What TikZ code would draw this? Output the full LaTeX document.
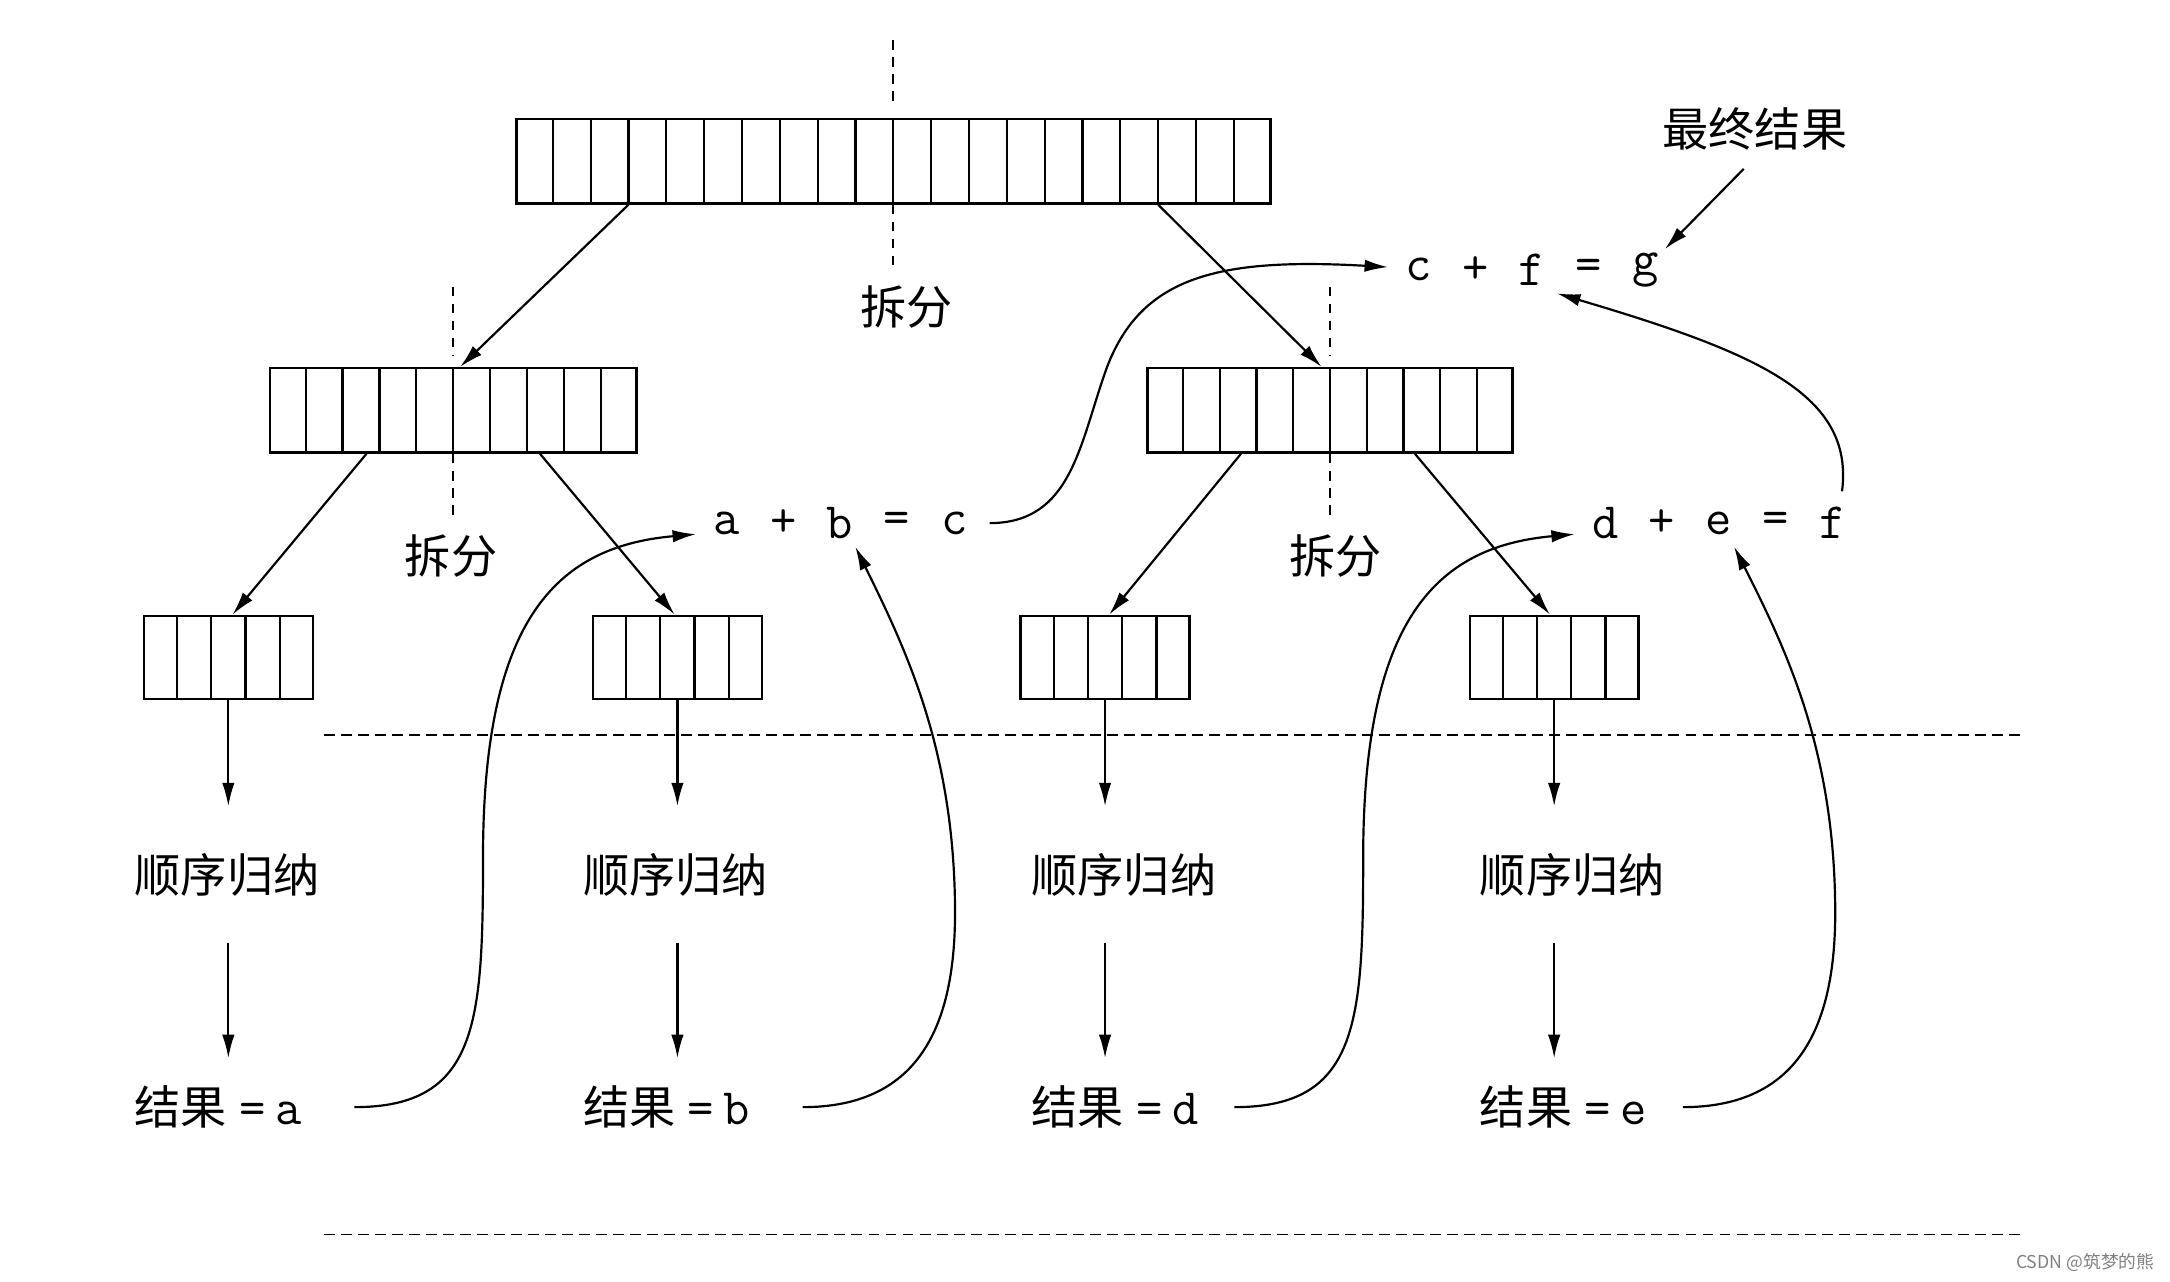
\documentclass[tikz,border=0pt]{standalone}
\usepackage{fontspec}
\setmainfont{Noto Sans CJK SC}
\newfontfamily\cjk{Noto Sans CJK SC}
\usetikzlibrary{arrows.meta,calc}
\begin{document}
\begin{tikzpicture}[x=0.02cm,y=-0.02cm,
  cellbar/.style={draw,line width=1pt,inner sep=0pt,minimum height=1.22cm},
  arr/.style={line width=0.9pt,-{Latex[length=3.4mm,width=1.8mm]}},
  splitline/.style={line width=0.8pt,dash pattern=on 4pt off 3pt},
  sepline/.style={line width=0.8pt,dash pattern=on 4.5pt off 2.5pt},
  cjktxt/.style={font=\cjk\fontsize{19}{22}\selectfont,inner sep=0pt},
  seqtxt/.style={cjktxt,anchor=west,minimum height=1.96cm},
  restxt/.style={cjktxt,anchor=west,minimum height=1.4cm},
  eqtxt/.style={font=\ttfamily\fontsize{21}{24}\selectfont,inner sep=0pt},
]
\useasboundingbox (0,0) rectangle (1568,926);
\newcommand\resval[1]{结果\hspace{5pt}{\ttfamily\fontsize{21}{24}\selectfont=\hspace{4pt}#1}}

% bars
\node[cellbar,minimum width=10.9cm] (top) at (645.5,116.5) {};
\node[cellbar,minimum width=5.3cm] (l2a) at (327.5,296.5) {};
\node[cellbar,minimum width=5.28cm] (l2b) at (961,296.5) {};
\node[cellbar,minimum width=2.44cm,minimum height=1.2cm] (l3a) at (165,475) {};
\node[cellbar,minimum width=2.44cm,minimum height=1.2cm] (l3b) at (489.5,475) {};
\node[cellbar,minimum width=2.44cm,minimum height=1.2cm] (l3c) at (798.5,475) {};
\node[cellbar,minimum width=2.44cm,minimum height=1.2cm] (l3d) at (1123,475) {};
\foreach \b/\n in {top/20,l2a/10,l2b/10,l3a/5,l3b/5,l3c/5,l3d/5}{
  \pgfmathtruncatemacro\m{\n-1}
  \foreach \i in {1,...,\m}
    \draw[line width=0.9pt] ($(\b.north west)!\i/\n!(\b.north east)$) -- ($(\b.south west)!\i/\n!(\b.south east)$);
}

% split labels and dashed split lines
\node[cjktxt] (sp1) at (655,222) {拆分};
\node[cjktxt] (sp2) at (326,402) {拆分};
\node[cjktxt] (sp3) at (965,402) {拆分};
\draw[splitline] ($(top.north)+(0,-56)$) -- ($(top.north)+(0,-8)$);
\draw[splitline] (top.south) -- ($(top.south)+(0,48)$);
\draw[splitline] ($(l2a.north)+(0,-58)$) -- ($(l2a.north)+(0,-8)$);
\draw[splitline] (l2a.south) -- ($(l2a.south)+(0,48)$);
\draw[splitline] ($(l2b.north)+(0,-58)$) -- ($(l2b.north)+(0,-8)$);
\draw[splitline] (l2b.south) -- ($(l2b.south)+(0,48)$);

% tree arrows
\draw[arr] ($(top.south west)!3/20!(top.south east)$) -- ($(l2a.north)+(5,0)$);
\draw[arr] ($(top.south west)!17/20!(top.south east)$) -- ($(l2b.north)+(-6,0)$);
\draw[arr] ($(l2a.south west)!0.265!(l2a.south east)$) -- ($(l3a.north)+(3,0)$);
\draw[arr] ($(l2a.south west)!0.735!(l2a.south east)$) -- ($(l3b.north)+(-2,0)$);
\draw[arr] ($(l2b.south west)!0.258!(l2b.south east)$) -- ($(l3c.north)+(3,0)$);
\draw[arr] ($(l2b.south west)!0.731!(l2b.south east)$) -- ($(l3d.north)+(-3,0)$);

% separator lines
\draw[sepline] (234,531) -- (1460,531);
\draw[sepline] (234,892) -- (1460,892);

% sequential reduction
\node[seqtxt] (seq1) at (97,632) {顺序归纳};
\node[seqtxt] (seq2) at (421,632) {顺序归纳};
\node[seqtxt] (seq3) at (745,632) {顺序归纳};
\node[seqtxt] (seq4) at (1069,632) {顺序归纳};
\node[restxt] (res1) at (97,800) {\resval{a}};
\node[restxt] (res2) at (421,800) {\resval{b}};
\node[restxt] (res3) at (745,800) {\resval{d}};
\node[restxt] (res4) at (1069,800) {\resval{e}};
\foreach \k/\s in {l3a/seq1,l3b/seq2,l3c/seq3,l3d/seq4}
  \draw[arr] (\k.south) -- (\k.south |- \s.north);
\foreach \k/\s/\r in {l3a/seq1/res1,l3b/seq2/res2,l3c/seq3/res3,l3d/seq4/res4}
  \draw[arr] (\k.south |- \s.south) -- (\k.south |- \r.north);

% equations
\node[eqtxt] (va) at (525,378) {a};
\node[eqtxt] (p1) at (566,378) {+};
\node[eqtxt] (vb) at (607,378) {b};
\node[eqtxt] (q1) at (648,378) {=};
\node[eqtxt] (vc) at (690,378) {c};
\node[eqtxt] (vd) at (1160,378) {d};
\node[eqtxt] (p2) at (1201,378) {+};
\node[eqtxt] (ve) at (1242,378) {e};
\node[eqtxt] (q2) at (1283,378) {=};
\node[eqtxt] (vf) at (1324,378) {f};
\node[eqtxt] (wc) at (1025,195) {c};
\node[eqtxt] (p3) at (1066,195) {+};
\node[eqtxt] (wf) at (1107,195) {f};
\node[eqtxt] (q3) at (1148,195) {=};
\node[eqtxt] (wg) at (1189,195) {g};
\node[cjktxt] (final) at (1268,93) {最终结果};
\draw[arr] ($(final)+(-8,29)$) -- ($(wg)+(14,-15)$);

% curved connectors
\coordinate (s1) at (256,800);
\coordinate (s2) at (580,800);
\coordinate (s3) at (892,800);
\coordinate (s4) at (1216,800);
\draw[arr] (s1) .. controls (345,800) and (349,740) .. (349,620) .. controls (349,450) and (400,395) .. ($(va)+(-22,8)$);
\draw[arr] (s2) .. controls (665,800) and (692,740) .. (690,650) .. controls (688,540) and (655,470) .. ($(vb)+(11,17)$);
\draw[arr] (s3) .. controls (981,800) and (985,740) .. (985,620) .. controls (985,450) and (1036,395) .. ($(vd)+(-22,8)$);
\draw[arr] (s4) .. controls (1301,800) and (1328,740) .. (1326,650) .. controls (1324,540) and (1291,470) .. ($(ve)+(11,17)$);
\draw[arr] ($(vc)+(25,0)$) .. controls (775,378) and (780,320) .. (800,265) .. controls (825,200) and (880,186) .. ($(wc)+(-22,-2)$);
\draw[arr] ($(vf)+(7,-23)$) .. controls (1340,285) and (1270,255) .. ($(wf)+(18,17)$);

% watermark
\node[font=\cjk\fontsize{7.3}{9}\selectfont,text=gray,anchor=east,inner sep=0pt] (wm) at (1557,912) {CSDN @筑梦的熊};
\end{tikzpicture}
\end{document}
